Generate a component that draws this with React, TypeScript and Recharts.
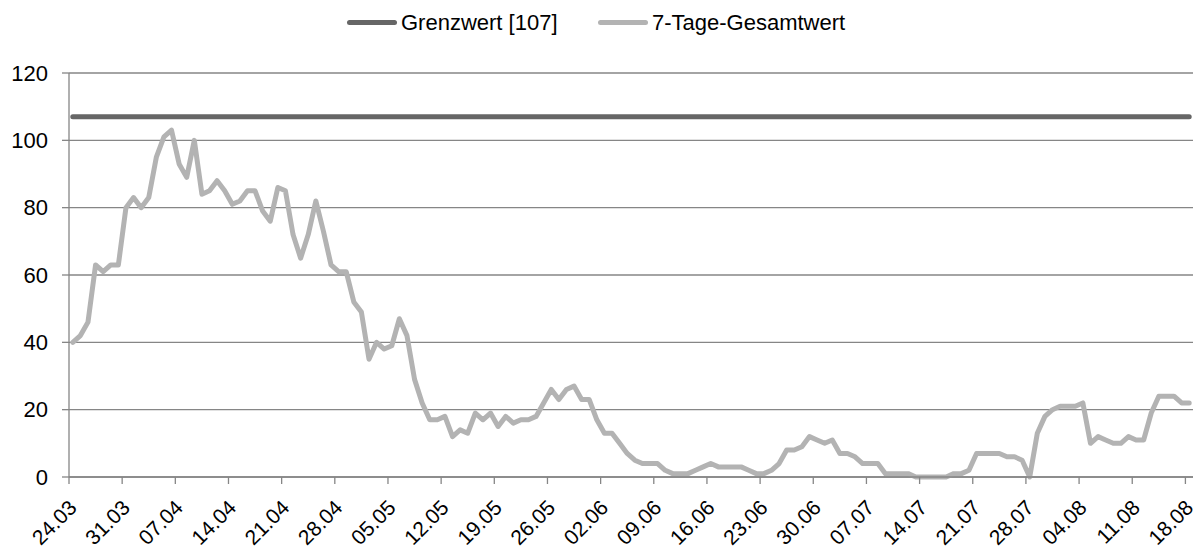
import { CartesianGrid, Line, LineChart, XAxis, YAxis } from 'recharts';

// weekly tick labels on the x axis (one every 7 days)
const DAY_LABELS = [
  '24.03', '31.03', '07.04', '14.04', '21.04', '28.04', '05.05', '12.05', '19.05', '26.05', '02.06',
  '09.06', '16.06', '23.06', '30.06', '07.07', '14.07', '21.07', '28.07', '04.08', '11.08', '18.08',
];

const Y_TICKS = [0, 20, 40, 60, 80, 100, 120];

const GRENZWERT = 107;

// daily 7-day totals, 24.03 – 18.08
const GESAMTWERT = [
  40, 42, 46, 63, 61, 63, 63, 80, 83, 80, 83, 95, 101, 103, 93, 89, 100, 84, 85, 88, 85, 81, 82, 85,
  85, 79, 76, 86, 85, 72, 65, 72, 82, 73, 63, 61, 61, 52, 49, 35, 40, 38, 39, 47, 42, 29, 22, 17,
  17, 18, 12, 14, 13, 19, 17, 19, 15, 18, 16, 17, 17, 18, 22, 26, 23, 26, 27, 23, 23, 17, 13, 13,
  10, 7, 5, 4, 4, 4, 2, 1, 1, 1, 2, 3, 4, 3, 3, 3, 3, 2, 1, 1, 2, 4, 8, 8, 9, 12, 11, 10, 11, 7, 7,
  6, 4, 4, 4, 1, 1, 1, 1, 0, 0, 0, 0, 0, 1, 1, 2, 7, 7, 7, 7, 6, 6, 5, 0, 13, 18, 20, 21, 21, 21,
  22, 10, 12, 11, 10, 10, 12, 11, 11, 19, 24, 24, 24, 22, 22,
];

const FONT = '"Liberation Sans", Arial, sans-serif';
const GRID = '#868686';
const DARK = '#666666';
const LIGHT = '#b3b3b3';

// category i sits in the middle of its day slot
const rows = GESAMTWERT.map((v, i) => ({ day: i + 0.5, gesamt: v, grenz: GRENZWERT }));
const tickDays = DAY_LABELS.map((_, k) => k * 7);

const DateTick = (props: any) => {
  const { x, y, payload } = props;
  return (
    <g transform={`translate(${x + 9},${y + 23})`}>
      <text x={0} y={0} textAnchor="end" transform="rotate(-45)" fontSize={21} fill="#000" fontFamily={FONT}>
        {DAY_LABELS[payload.value / 7]}
      </text>
    </g>
  );
};

const LegendItem = ({ left, color, label }: { left: number; color: string; label: string }) => (
  <div style={{ position: 'absolute', left, top: 0, height: 45, display: 'flex', alignItems: 'center' }}>
    <span style={{ width: 50, height: 5, borderRadius: 3, background: color, marginRight: 4 }} />
    <span style={{ fontSize: 22, fontFamily: FONT, color: '#000' }}>{label}</span>
  </div>
);

const App = () => {
  return (
    <div style={{ position: 'absolute', left: 0, top: 0, width: 1199, height: 549, background: '#fff' }}>
      <LegendItem left={347} color={DARK} label="Grenzwert [107]" />
      <LegendItem left={598} color={LIGHT} label="7-Tage-Gesamtwert" />
      <LineChart width={1199} height={549} data={rows} margin={{ top: 73, right: 6, bottom: 0, left: 9 }}>
        <CartesianGrid vertical={false} stroke={GRID} strokeWidth={1.3} />
        <XAxis
          type="number"
          dataKey="day"
          domain={[0, 148]}
          ticks={tickDays}
          interval={0}
          height={72}
          tickSize={7}
          tickMargin={2}
          axisLine={{ stroke: GRID, strokeWidth: 1.3 }}
          tickLine={{ stroke: GRID, strokeWidth: 1.3 }}
          tick={<DateTick />}
        />
        <YAxis
          domain={[0, 120]}
          ticks={Y_TICKS}
          interval={0}
          width={60}
          tickSize={7}
          tickMargin={14}
          axisLine={{ stroke: GRID, strokeWidth: 1.3 }}
          tickLine={{ stroke: GRID, strokeWidth: 1.3 }}
          tick={{ fontSize: 22, fill: '#000', fontFamily: FONT }}
        />
        <Line
          type="linear"
          dataKey="grenz"
          stroke={DARK}
          strokeWidth={5}
          strokeLinecap="round"
          dot={false}
          activeDot={false}
          isAnimationActive={false}
        />
        <Line
          type="linear"
          dataKey="gesamt"
          stroke={LIGHT}
          strokeWidth={5}
          strokeLinecap="round"
          strokeLinejoin="round"
          dot={false}
          activeDot={false}
          isAnimationActive={false}
        />
      </LineChart>
    </div>
  );
};

export default App;
